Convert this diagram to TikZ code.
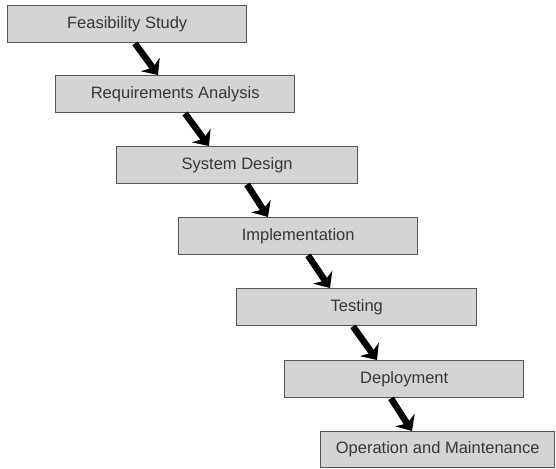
\documentclass[tikz,border=0pt]{standalone}
\usepackage{fontspec}
\setmainfont{Liberation Sans}
\usetikzlibrary{arrows.meta}
\usetikzlibrary{calc}

\definecolor{boxfill}{RGB}{212,212,212}
\definecolor{boxline}{RGB}{85,85,85}
\definecolor{boxtext}{RGB}{55,55,55}

\tikzset{
  phase/.style={draw=boxline, line width=1.4pt, fill=boxfill, text=boxtext,
    minimum width=239pt, minimum height=37pt, inner sep=0pt, anchor=north west,
    font=\fontsize{16.5}{19}\selectfont},
  flow/.style={line width=6.5pt, -{Stealth[length=13pt,width=23pt,inset=4pt]}}
}

\begin{document}
\begin{tikzpicture}[x=1pt,y=1pt]

%Cadre
\useasboundingbox (0,0) rectangle (556,-468);

%Etapes
\node[phase] (fs) at (7,-5) {Feasibility Study};
\node[phase] (ra) at (55,-75) {Requirements Analysis};
\node[phase, minimum width=241pt] (sd) at (116,-146) {System Design};
\node[phase] (im) at (178,-217) {Implementation};
\node[phase, minimum width=240pt] (te) at (236,-288) {Testing};
\node[phase] (de) at (284,-360) {Deployment};
\node[phase, minimum width=234pt, minimum height=36pt] (om) at (320,-431) {Operation and Maintenance};

%Fleches
\draw[flow] ($(fs.south west)+(128,0)$) -- ($(ra.north west)+(103,0)$);
\draw[flow] ($(ra.south west)+(130,0)$) -- ($(sd.north west)+(93,0)$);
\draw[flow] ($(sd.south west)+(131,0)$) -- ($(im.north west)+(90,0)$);
\draw[flow] ($(im.south west)+(130,0)$) -- ($(te.north west)+(94,0)$);
\draw[flow] ($(te.south west)+(117,0)$) -- ($(de.north west)+(93,0)$);
\draw[flow] ($(de.south west)+(107,0)$) -- ($(om.north west)+(92,0)$);

\end{tikzpicture}
\end{document}
